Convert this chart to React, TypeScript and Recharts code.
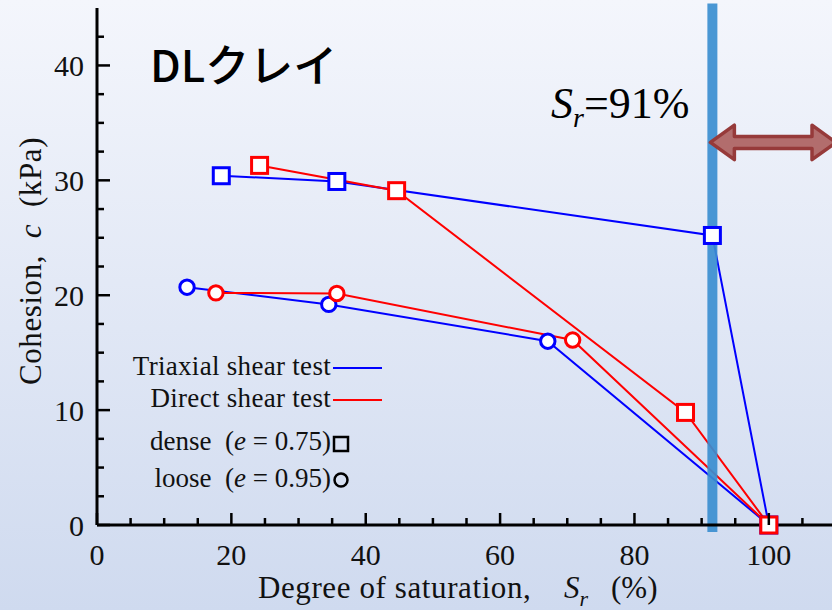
import React from "react";
import { LineChart, Line, XAxis, YAxis, ReferenceLine, ReferenceArea, Customized } from "recharts";

// degree of saturation Sr (%) and cohesion c (kPa)
const triaxialDenseSr = [18.5, 35.7, 91.6, 100];
const triaxialDenseC = [30.4, 29.9, 25.2, 0];
const directDenseSr = [24.2, 44.6, 87.6, 100];
const directDenseC = [31.3, 29.1, 9.8, 0];
const triaxialLooseSr = [13.4, 34.5, 67.1, 100];
const triaxialLooseC = [20.7, 19.2, 16.0, 0];
const directLooseSr = [17.7, 35.7, 70.8, 100];
const directLooseC = [20.2, 20.15, 16.1, 0];

const xTicks = [0, 5, 10, 15, 20, 25, 30, 35, 40, 45, 50, 55, 60, 65, 70, 75, 80, 85, 90, 95, 100, 105];
const yTicks = [0, 2.5, 5, 7.5, 10, 12.5, 15, 17.5, 20, 22.5, 25, 27.5, 30, 32.5, 35, 37.5, 40, 42.5];
const thresholdSr = 91.6;
const arrowSr = [91.3, 110];
const arrowC = [31.8, 34.8];

const toPoints = (xs: number[], ys: number[]) => xs.map((x, i) => ({ x, y: ys[i] }));

const serif = "'Liberation Serif', 'Times New Roman', serif";
const BLUE = "#0000ff";
const RED = "#ff0000";
const pre = { whiteSpace: "pre" as const };

const squareDot = (color: string) => (p: any) => (
  <rect key={`sq-${color}-${p.index}`} x={p.cx - 8} y={p.cy - 8} width={16} height={16}
    fill="#fff" stroke={color} strokeWidth={3} />
);
const circleDot = (color: string) => (p: any) => (
  <circle key={`ci-${color}-${p.index}`} cx={p.cx} cy={p.cy} r={7.2} fill="#fff" stroke={color} strokeWidth={3} />
);

const BottomTick = (p: any) => {
  const v = p.payload.value;
  const major = v % 20 === 0;
  return (
    <g>
      <line x1={p.x} x2={p.x} y1={p.y} y2={p.y - (major ? 12 : 7)} stroke="#000" strokeWidth={2.5} />
      {major && (
        <text x={p.x} y={p.y + 40} textAnchor="middle" fontFamily={serif} fontSize={30} fill="#111">{v}</text>
      )}
    </g>
  );
};
const TopTick = (p: any) => {
  const major = p.payload.value % 20 === 0;
  return <line x1={p.x} x2={p.x} y1={p.y} y2={p.y + (major ? 12 : 7)} stroke="#000" strokeWidth={2.5} />;
};
const LeftTick = (p: any) => {
  const v = p.payload.value;
  const major = v % 10 === 0;
  return (
    <g>
      <line x1={p.x} x2={p.x + (major ? 13 : 7)} y1={p.y} y2={p.y} stroke="#000" strokeWidth={2.5} />
      {major && (
        <text x={p.x - 13} y={p.y + 11} textAnchor="end" fontFamily={serif} fontSize={30} fill="#111">{v}</text>
      )}
    </g>
  );
};
const RightTick = (p: any) => {
  const major = p.payload.value % 10 === 0;
  return <line x1={p.x} x2={p.x - (major ? 13 : 7)} y1={p.y} y2={p.y} stroke="#000" strokeWidth={2.5} />;
};

const DoubleArrow = (p: any) => {
  const { x, y, width: w, height: h } = p;
  const cy = y + h / 2;
  const hw = 24;
  const sh = 6;
  const pts = [
    [x, cy], [x + hw, y], [x + hw, cy - sh], [x + w - hw, cy - sh], [x + w - hw, y],
    [x + w, cy], [x + w - hw, y + h], [x + w - hw, cy + sh], [x + hw, cy + sh], [x + hw, y + h],
  ].map((q) => q.join(",")).join(" ");
  return <polygon points={pts} fill="#b26d6d" stroke="#963a3a" strokeWidth={3.5} strokeLinejoin="round" />;
};

const Annotations = () => (
  <g>
    <text x={150} y={82} fontFamily="'Noto Sans CJK JP', 'Noto Sans', sans-serif" fontWeight={500} fontSize={44} fill="#000">
      DLクレイ
    </text>
    <text x={551} y={118} fontFamily={serif} fontSize={44} fill="#000">
      <tspan fontStyle="italic">S</tspan>
      <tspan fontStyle="italic" fontSize={28} dy={9}>r</tspan>
      <tspan dy={-9}>=91%</tspan>
    </text>

    <g fontFamily={serif} fontSize={27} fill="#111" textAnchor="end">
      <text x={331} y={375} letterSpacing={0.3}>Triaxial shear test</text>
      <text x={331} y={407} letterSpacing={0.3}>Direct shear test</text>
      <text x={331} y={450} style={pre}>
        dense  (<tspan fontStyle="italic">e</tspan> = 0.75)
      </text>
      <text x={331} y={487} style={pre}>
        loose  (<tspan fontStyle="italic">e</tspan> = 0.95)
      </text>
    </g>
    <line x1={333} x2={382} y1={368} y2={368} stroke={BLUE} strokeWidth={2} />
    <line x1={333} x2={382} y1={400} y2={400} stroke={RED} strokeWidth={2} />
    <rect x={334} y={437} width={14} height={14} fill="none" stroke="#000" strokeWidth={2.5} />
    <circle cx={341} cy={480} r={6.5} fill="none" stroke="#000" strokeWidth={2.5} />

    <text transform="translate(41,261) rotate(-90)" textAnchor="middle" fontFamily={serif} fontSize={31}
      letterSpacing={0.6} fill="#111" style={pre}>
      Cohesion,  <tspan fontStyle="italic">c</tspan>  (kPa)
    </text>
    <text x={258} y={598} fontFamily={serif} fontSize={31} letterSpacing={0.6} fill="#111">Degree of saturation,</text>
    <text x={564} y={598} fontFamily={serif} fontSize={31} fill="#111">
      <tspan fontStyle="italic">S</tspan>
      <tspan fontStyle="italic" fontSize={22} dy={8}>r</tspan>
    </text>
    <text x={611} y={598} fontFamily={serif} fontSize={31} fill="#111">(%)</text>
  </g>
);

export default function App() {
  return (
    <div style={{ width: 832, height: 610, background: "linear-gradient(#f4f6fc, #cfdaef)", overflow: "hidden" }}>
      <style>{`body{margin:0}`}</style>
      <LineChart width={832} height={610} margin={{ top: 8, right: -4, bottom: 0, left: 0 }}>
        <XAxis type="number" dataKey="x" domain={[0, 110]} ticks={xTicks} interval={0} height={85}
          tickSize={0} tickMargin={0} tick={<BottomTick />} axisLine={{ stroke: "#000", strokeWidth: 3 }} />
        <XAxis xAxisId="top" orientation="top" type="number" dataKey="x" domain={[0, 110]} ticks={xTicks}
          interval={0} height={0} tickSize={0} tickMargin={0} tick={<TopTick />}
          axisLine={{ stroke: "#000", strokeWidth: 3 }} />
        <YAxis type="number" domain={[0, 45]} ticks={yTicks} interval={0} width={97}
          tickSize={0} tickMargin={0} tick={<LeftTick />} axisLine={{ stroke: "#000", strokeWidth: 3 }} />
        <YAxis yAxisId="right" orientation="right" type="number" domain={[0, 45]} ticks={yTicks} interval={0}
          width={0} tickSize={0} tickMargin={0} tick={<RightTick />} axisLine={{ stroke: "#000", strokeWidth: 3 }} />

        <Line data={toPoints(triaxialLooseSr, triaxialLooseC)} dataKey="y" stroke={BLUE} strokeWidth={2}
          dot={circleDot(BLUE)} isAnimationActive={false} />
        <Line data={toPoints(directLooseSr, directLooseC)} dataKey="y" stroke={RED} strokeWidth={2}
          dot={circleDot(RED)} isAnimationActive={false} />
        <Line data={toPoints(triaxialDenseSr, triaxialDenseC)} dataKey="y" stroke={BLUE} strokeWidth={2}
          dot={squareDot(BLUE)} isAnimationActive={false} />
        <Line data={toPoints(directDenseSr, directDenseC)} dataKey="y" stroke={RED} strokeWidth={2}
          dot={squareDot(RED)} isAnimationActive={false} />

        <ReferenceLine segment={[{ x: thresholdSr, y: -0.6 }, { x: thresholdSr, y: 45.4 }]} ifOverflow="visible"
          stroke="#3b8ed0" strokeOpacity={0.92} strokeWidth={10} />

        <ReferenceArea x1={arrowSr[0]} x2={arrowSr[1]} y1={arrowC[0]} y2={arrowC[1]} ifOverflow="visible"
          shape={<DoubleArrow />} zIndex={2000} />

        <Customized component={Annotations} />
      </LineChart>
    </div>
  );
}
